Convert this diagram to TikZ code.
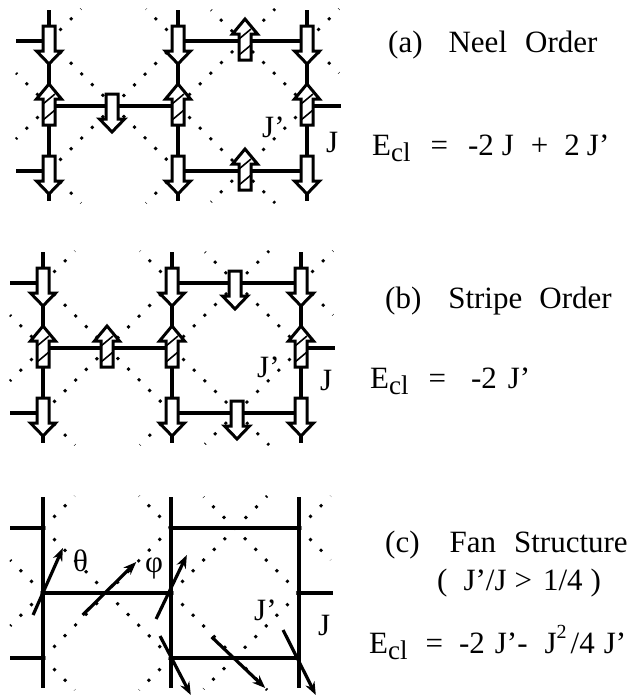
\documentclass[tikz,border=0pt]{standalone}
\usepackage{fontspec}
\setmainfont{Liberation Serif}
\usetikzlibrary{arrows.meta}
\tikzset{
  bond/.style={line width=3.8pt},
  bondthick/.style={line width=4.8pt},
  jdots/.style={line width=2.8pt, dash pattern=on 2.8pt off 12.2pt},
  spinline/.style={line width=3pt, fill=white, line join=miter},
  fanspin/.style={line width=3.2pt, -{Stealth[length=13pt,width=10pt]}},
  lbl/.style={anchor=base west, inner sep=0pt, font=\fontsize{31}{34}\selectfont},
  sublbl/.style={font=\fontsize{27}{30}\selectfont},
  spindown/.pic={
    \draw[spinline] (-6,-15) -- (6,-15) -- (6,10) -- (12.5,10) -- (0,23)
      -- (-12.5,10) -- (-6,10) -- cycle;
  },
  spinup/.pic={
    \draw[spinline] (-6,19) -- (6,19) -- (6,-7) -- (12.5,-7) -- (0,-22)
      -- (-12.5,-7) -- (-6,-7) -- cycle;
    \draw[line width=1.6pt] (-6,-2) -- (6,-12);
    \draw[line width=1.6pt] (-6,14) -- (6,4);
  }
}
% dotted J' lines and the J bonds of one panel
\newcommand{\latticebonds}{
  \foreach \ax/\ay/\bx/\by in {0/65/-33/32, 0/65/-33/98, 0/0/129/130, 0/130/129/0,
      129/65/226/162, 129/65/226/-32, 258/65/162/-31, 258/65/162/161,
      0/0/32/-32, 0/130/32/162, 129/0/97/-32, 129/130/97/162,
      258/0/290/-32, 258/0/290/32}
    \draw[jdots] (\ax,\ay) -- (\bx,\by);
  \foreach \cx in {0,129,258}
    \draw[bond] (\cx,-31) -- (\cx,160);
  \draw[bond] (-33,0) -- (0,0);
  \draw[bond] (-33,130) -- (0,130);
  \draw[bond] (129,0) -- (258,0);
  \draw[bond] (129,130) -- (258,130);
  \draw[bondthick] (258,65) -- (292,65);
  \draw[bondthick] (0,65) -- (129,65);
}
\newcommand{\Ecl}{E\raisebox{-6pt}{\fontsize{27}{30}\selectfont cl}}
\begin{document}
\begin{tikzpicture}[x=1pt, y=-1pt]
  \useasboundingbox (0,0) rectangle (631,696);
  % Neel order
  \begin{scope}[shift={(49,41)}]
    \latticebonds
    \foreach \cx in {0,129,258} {
      \pic at (\cx,0) {spindown};
      \pic at (\cx,65) {spinup};
      \pic at (\cx,130) {spindown};
    }
    \pic at (63,68) {spindown};
    \pic at (196,0) {spinup};
    \pic at (196,130) {spinup};
  \end{scope}
  \node[lbl] (jpa) at (262,137) {J’};
  \node[lbl] (ja) at (326,152) {J};
  \node[lbl] (titlea) at (388,52) {(a)\hspace{26pt}Neel\hspace{18pt}Order};
  \node[lbl] (eqa) at (372,155) {\Ecl\hspace{20pt}=\hspace{20pt}-2\hspace{8pt}J\hspace{17pt}+\hspace{16pt}2\hspace{7pt}J’};
  % Stripe order
  \begin{scope}[shift={(43,283)}]
    \latticebonds
    \foreach \cx in {0,129,258} {
      \pic at (\cx,0) {spindown};
      \pic at (\cx,65) {spinup};
      \pic at (\cx,130) {spindown};
    }
    \pic at (64,65) {spinup};
    \pic at (192,3) {spindown};
    \pic at (194,133) {spindown};
  \end{scope}
  \node[lbl] (jpb) at (257,377) {J’};
  \node[lbl] (jb) at (320,390) {J};
  \node[lbl] (titleb) at (385,308) {(b)\hspace{27pt}Stripe\hspace{17pt}Order};
  \node[lbl] (eqb) at (370,388) {\Ecl\hspace{20pt}=\hspace{25pt}-2\hspace{11pt}J’};
  % Fan structure
  \begin{scope}[shift={(43,528)}, x=0.992pt]
    \latticebonds
    \draw[fanspin] (-10,87) -- (20,20);
    \draw[fanspin] (40,87) -- (94,34);
    \draw[fanspin] (114,91) -- (145,27);
    \draw[fanspin] (118,108) -- (149,167);
    \draw[fanspin] (170,109) -- (224,160);
    \draw[fanspin] (242,102) -- (275,167);
  \end{scope}
  \node[lbl] (theta) at (73,571) {θ};
  \node[lbl] (phi) at (145,572) {φ};
  \node[lbl] (jpc) at (254,620) {J’};
  \node[lbl] (jc) at (318,635) {J};
  \node[lbl] (titlec) at (385,552) {(c)\hspace{30pt}Fan\hspace{18pt}Structure};
  \node[lbl] (condc) at (437,590) {(\hspace{16pt}J’/J\hspace{8pt}>\hspace{11pt}1/4\hspace{8pt})};
  \node[lbl] (eqc) at (369,653) {\Ecl\hspace{18pt}=\hspace{16pt}-2\hspace{10pt}J’-\hspace{17pt}J\raisebox{15pt}{\fontsize{20}{22}\selectfont 2}\hspace{4pt}/4\hspace{9pt}J’};
\end{tikzpicture}
\end{document}
